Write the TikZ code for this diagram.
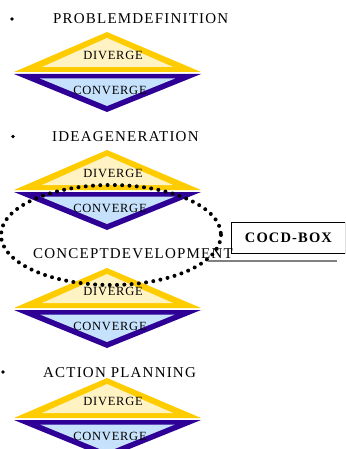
\documentclass[tikz,border=0pt]{standalone}
\usepackage{fontspec}
\setmainfont{Liberation Serif}
\newfontfamily\spfont[LetterSpace=8]{Liberation Serif}
\newfontfamily\dvfont[LetterSpace=6]{Liberation Serif}
\definecolor{ygold}{HTML}{FFCC00}
\definecolor{ypale}{HTML}{FFF3C4}
\definecolor{pdark}{HTML}{2E0096}
\definecolor{bpale}{HTML}{C6E1FC}
\tikzset{
  titletext/.style={anchor=base west, inner sep=0pt, font=\spfont\fontsize{15}{17}\selectfont},
  dvtext/.style={inner sep=0pt, font=\dvfont\fontsize{12.5}{14}\selectfont},
  bulletdot/.style={circle, fill=black, inner sep=0pt, minimum size=3.8pt},
  dotring/.style={line width=4pt, line cap=round, dash pattern=on 0pt off 7.3pt},
  boxframe/.style={draw=black, line width=0.9pt, font=\spfont\bfseries\fontsize{14.5}{16}\selectfont}
}
\newcommand{\dvpair}[2]{%
  \fill[ygold] (14,#1+40) -- (107,#1) -- (201,#1+40) -- cycle;
  \fill[ypale] (42,#1+35) -- (107,#1+6) -- (173,#1+35) -- cycle;
  \fill[pdark] (14,#1+42) -- (201,#1+42) -- (107,#1+80) -- cycle;
  \fill[bpale] (40,#1+46.5) -- (175,#1+46.5) -- (107,#1+74) -- cycle;
  \node[dvtext] (div#2) at (113,#1+23) {DIVERGE};
  \node[dvtext] (con#2) at (110,#1+58) {CONVERGE};
}
\begin{document}
\begin{tikzpicture}[x=1pt,y=-1pt]
\useasboundingbox (0,0) rectangle (345,449);
\clip (0,0) rectangle (345,449);
\fill[white] (0,0) rectangle (345,449);
% titles
\node[bulletdot] (b1) at (12,19) {};
\node[titletext] (t1) at (53,24) {PROBLEMDEFINITION};
\node[bulletdot] (b2) at (13,136.5) {};
\node[titletext] (t2) at (52,142) {IDEAGENERATION};
\node[titletext] (t3) at (33,258.5) {CONCEPTDEVELOPMENT};
\node[bulletdot] (b4) at (3,372) {};
\node[titletext] (t4) at (43,377) {ACTION PLANNING};
% diamonds
\dvpair{32}{1}
\dvpair{150}{2}
\dvpair{268}{3}
\dvpair{378}{4}
% dotted ring
\draw[dotring] (111,235) ellipse [x radius=110, y radius=50];
% box
\draw[gray, line width=1.3pt] (208,261) -- (337,261);
\node[boxframe, anchor=north west, minimum width=114pt, minimum height=31pt, inner sep=0pt] (cocd) at (231,222) {COCD-BOX};
\end{tikzpicture}
\end{document}
